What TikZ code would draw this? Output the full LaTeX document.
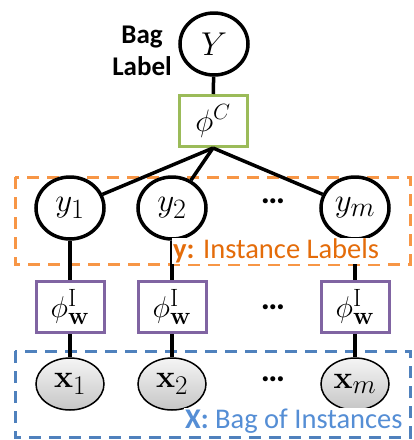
\documentclass[tikz,border=0pt]{standalone}
\usepackage{fix-cm}
\usepackage[no-math]{fontspec}
\setmainfont{Carlito}
\usetikzlibrary{shapes.geometric}
% large scripts for the big node labels
\DeclareMathSizes{33}{33}{28}{22}
\DeclareMathSizes{32}{32}{27}{21}
\DeclareMathSizes{31}{31}{22}{17}
\DeclareMathSizes{30}{30}{25}{19}
\definecolor{boxgreen}{RGB}{155,187,89}
\definecolor{boxpurple}{RGB}{128,100,162}
\definecolor{plateorange}{RGB}{247,150,70}
\definecolor{textorange}{RGB}{228,108,10}
\definecolor{plateblue}{RGB}{79,129,189}
\definecolor{textblue}{RGB}{85,142,213}
\tikzset{
  var/.style={draw=black, line width=3.5pt, ellipse, minimum width=68pt, minimum height=62pt, inner sep=0pt, font=\fontsize{33}{36}\selectfont},
  obs/.style={draw=black, line width=1.5pt, ellipse, minimum width=68pt, minimum height=52pt, inner sep=0pt,
    top color=gray!8, bottom color=gray!45, font=\fontsize{32}{36}\selectfont},
  factor/.style={draw=#1, line width=3pt, rectangle, minimum width=68pt, minimum height=51pt, inner sep=0pt, fill=white, font=\fontsize{30}{34}\selectfont},
  edge/.style={line width=3.5pt},
  plate/.style={draw=#1, line width=3pt, dash pattern=on 12pt off 8pt},
  platelabel/.style={fill=white, inner sep=1pt, font=\fontsize{28.5}{32}\selectfont, text=#1},
  dots/.style={font=\fontsize{34}{36}\selectfont\bfseries},
}
\begin{document}
\begin{tikzpicture}[x=1pt, y=-1pt]
\useasboundingbox (0,0) rectangle (414,440);

% plates
\draw[plate=plateorange] (15,177) rectangle (410,264);
\draw[plate=plateblue] (15,351) rectangle (410,437);

% bag label
\node[var] (Y) at (214,44) {$Y$};
\node[font=\fontsize{27}{32}\selectfont\bfseries, align=center] (baglabel) at (142,51) {Bag\\Label};
\node[factor=boxgreen, font=\fontsize{31}{36}\selectfont] (phiC) at (213,121) {$\phi^{C}$};

% instance labels
\node[var] (y1) at (70,208) {$y_1$};
\node[var] (y2) at (172,208) {$y_2$};
\node[var] (ym) at (355,208) {$y_m$};
\node[dots] (dy) at (273,201) {…};

% instance factors
\node[factor=boxpurple] (f1) at (70,307) {$\phi^{\mathrm{I}}_{\mathbf{w}}$};
\node[factor=boxpurple] (f2) at (172,307) {$\phi^{\mathrm{I}}_{\mathbf{w}}$};
\node[factor=boxpurple] (fm) at (355,307) {$\phi^{\mathrm{I}}_{\mathbf{w}}$};
\node[dots] (df) at (273,307) {…};

% instances
\node[obs] (x1) at (70,384) {$\mathbf{x}_1$};
\node[obs] (x2) at (172,384) {$\mathbf{x}_2$};
\node[obs] (xm) at (355,384) {$\mathbf{x}_m$};
\node[dots] (dx) at (273,379) {…};

% connectors
\draw[edge] (Y) -- (phiC);
\draw[edge] (phiC.south) -- (y1);
\draw[edge] (phiC.south) -- (y2);
\draw[edge] (phiC.south) -- (ym);
\foreach \i in {1,2,m}{
  \draw[edge] (y\i) -- (f\i);
  \draw[edge] (f\i) -- (x\i);
}

% plate labels
\node[platelabel=textorange, anchor=west] (ylab) at (172,251) {\textbf{y:} Instance Labels};
\node[platelabel=textblue, anchor=west] (xlab) at (184,421) {\textbf{X:} Bag of Instances};
\end{tikzpicture}
\end{document}
